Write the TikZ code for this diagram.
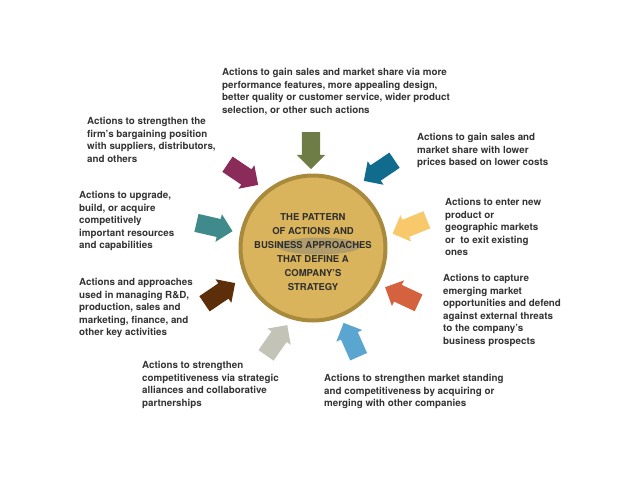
\documentclass[tikz,border=0pt]{standalone}
\usepackage{fontspec}
\setmainfont{TeX Gyre Heros}
\usetikzlibrary{shapes.arrows}
\definecolor{txt}{HTML}{333333}
\definecolor{gold}{HTML}{D9B45C}
\definecolor{rim}{HTML}{A98A3C}
\definecolor{aOlive}{HTML}{6E7D45}
\definecolor{aPlum}{HTML}{8A2B59}
\definecolor{aPetrol}{HTML}{116B8C}
\definecolor{aTeal}{HTML}{3F8B8B}
\definecolor{aSun}{HTML}{F7C96B}
\definecolor{aBrown}{HTML}{5C2F0A}
\definecolor{aRust}{HTML}{D4623F}
\definecolor{aStone}{HTML}{C3C3B8}
\definecolor{aSky}{HTML}{5AA6D0}

\begin{document}
\begin{tikzpicture}[x=1pt,y=-1pt]
\tikzstyle{label}=[anchor=north west,inner sep=0pt,align=left,text=txt,font=\fontsize{9.8}{12.6}\selectfont\bfseries]
\tikzstyle{push}=[single arrow,draw=none,inner sep=9pt,single arrow head extend=5pt,minimum height=37pt]
\useasboundingbox (0,0) rectangle (638,493);
\node [circle,fill=gold,draw=rim,line width=4pt,minimum size=145pt] (core) at (313,248) {};
\fill [gray!80!gold,opacity=0.55] (319,246) ellipse (42 and 8.5);
\node [align=center,text=txt!90!black,font=\fontsize{9.5}{14}\selectfont\bfseries] (coretext) at (313,252)
{THE PATTERN\\OF ACTIONS AND\\BUSINESS APPROACHES\\THAT DEFINE A\\COMPANY'S\\STRATEGY};
\node [push,fill=aOlive,rotate=-90] (aDesign) at (311,146) {};
\node [push,fill=aPlum,rotate=-34] (aBargain) at (239,172) {};
\node [push,fill=aPetrol,rotate=-146] (aCost) at (383,168) {};
\node [push,fill=aTeal,rotate=-13] (aUpgrade) at (210,226) {};
\node [push,fill=aSun,rotate=-158] (aMarkets) at (414,225) {};
\node [push,fill=aBrown,rotate=34] (aManage) at (216,296) {};
\node [push,fill=aRust,rotate=155] (aCapture) at (406,297) {};
\node [push,fill=aStone,rotate=55] (aAlliance) at (274,344) {};
\node [push,fill=aSky,rotate=114] (aMerge) at (353,344) {};
\node [label] (tDesign) at (222,68) {Actions to gain sales and market share via more\\performance features, more appealing design,\\better quality or customer service, wider product\\selection, or other such actions};
\node [label] (tBargain) at (87,117) {Actions to strengthen the\\firm's bargaining position\\with suppliers, distributors,\\and others};
\node [label] (tCost) at (417,133) {Actions to gain sales and\\market share with lower\\prices based on lower costs};
\node [label] (tUpgrade) at (79,191) {Actions to upgrade,\\build, or acquire\\competitively\\important resources\\and capabilities};
\node [label] (tMarkets) at (445,198) {Actions to enter new\\product or\\geographic markets\\or\ \ to exit existing\\ones};
\node [label] (tManage) at (79,278) {Actions and approaches\\used in managing R\&D,\\production, sales and\\marketing, finance, and\\other key activities};
\node [label] (tCapture) at (443,274) {Actions to capture\\emerging market\\opportunities and defend\\against external threats\\to the company's\\business prospects};
\node [label] (tAlliance) at (142,361) {Actions to strengthen\\competitiveness via strategic\\alliances and collaborative\\partnerships};
\node [label] (tMerge) at (324,374) {Actions to strengthen market standing\\and competitiveness by acquiring or\\merging with other companies};
\end{tikzpicture}
\end{document}
